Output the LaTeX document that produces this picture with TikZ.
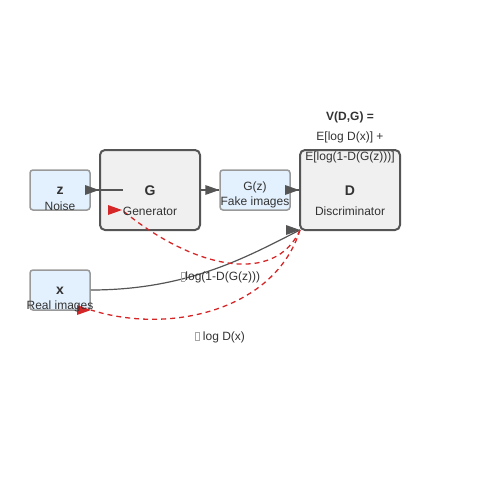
\documentclass[tikz,border=0pt]{standalone}
\usepackage{fontspec}
\setmainfont{Liberation Sans}
\definecolor{txt}{HTML}{333333}
\definecolor{bluefill}{HTML}{E3F0FD}
\definecolor{bluedraw}{HTML}{999999}
\definecolor{grayfill}{HTML}{F0F0F0}
\definecolor{graydraw}{HTML}{555555}
\definecolor{redc}{HTML}{D62728}
\newcommand\missingglyph{{\color{gray!70}\setlength\fboxsep{0pt}\setlength\fboxrule{0.5pt}\fbox{\rule{0pt}{8pt}\hspace{3.5pt}}}}
\tikzset{
  smallbox/.style={draw=bluedraw, fill=bluefill, line width=1.5pt, rounded corners=3pt, minimum width=60pt, minimum height=40pt, inner sep=0pt},
  bigbox/.style={draw=graydraw, fill=grayfill, line width=2pt, rounded corners=5pt, minimum width=100pt, minimum height=80pt, inner sep=0pt},
  lbl/.style={text=txt, font=\fontsize{12}{12}\selectfont, anchor=base, inner sep=0pt},
  blbl/.style={text=txt, font=\fontsize{14}{14}\selectfont\bfseries, anchor=base, inner sep=0pt},
  flow/.style={draw=graydraw, line width=1.3pt},
  grad/.style={draw=redc, line width=1.3pt, dashed, dash pattern=on 5pt off 4pt},
}
\newcommand\rhead[2]{\fill[#1] (#2) -- ++(-14,-5) -- ++(0,10) -- cycle;}
\begin{document}
\begin{tikzpicture}[x=1pt,y=-1pt]
\useasboundingbox (0,0) rectangle (500,500);
% boxes
\node[smallbox] (z) at (60,190) {};
\node[bigbox] (G) at (150,190) {};
\node[smallbox, minimum width=70pt] (Gz) at (255,190) {};
\node[bigbox] (D) at (350,190) {};
\node[smallbox] (x) at (60,290) {};
% coordinates
\coordinate (Gin) at (123,190);
\coordinate (Dbl) at (300,230);
\coordinate (Gtip) at (122,210);
\coordinate (xtip) at (91,310);
% flows
\draw[flow] (z.east) -- (Gin);
\rhead{graydraw}{G.west}
\draw[flow] (G.east) -- (Gz.west);
\rhead{graydraw}{Gz.west}
\draw[flow] (Gz.east) -- (D.west);
\rhead{graydraw}{D.west}
\draw[flow, line width=1.2pt] (x.east) .. controls (190,290) and (250,255) .. (Dbl);
\rhead{graydraw}{Dbl}
% gradients
\draw[grad] (Dbl) .. controls (275,285) and (195,270) .. (Gtip);
\rhead{redc}{Gtip}
\draw[grad] (Dbl) .. controls (275,310) and (170,335) .. (xtip);
\rhead{redc}{xtip}
% texts
\node[blbl] (zt) at (60,194) {z};
\node[lbl] (zn) at (60,210) {Noise};
\node[blbl] (Gt) at (150,195) {G};
\node[lbl] (Gn) at (150,215) {Generator};
\node[lbl] (Gzt) at (255,190.5) {G(z)};
\node[lbl] (Gzn) at (255,205) {Fake images};
\node[blbl] (Dt) at (350,195) {D};
\node[lbl] (Dn) at (350,215) {Discriminator};
\node[blbl] (xt) at (60,294) {x};
\node[lbl] (xn) at (60,309) {Real images};
\node[lbl, font=\fontsize{12}{12}\selectfont\bfseries] (V1) at (350,121) {V(D,G) =};
\node[lbl] (V2) at (350,140) {E[log D(x)] +};
\node[lbl] (V3) at (350,160) {E[log(1-D(G(z)))]};
\node[lbl] (g1) at (220.5,280.5) {\missingglyph log(1-D(G(z)))};
\node[lbl] (g2) at (220,340) {\missingglyph\ log D(x)};
\end{tikzpicture}
\end{document}
